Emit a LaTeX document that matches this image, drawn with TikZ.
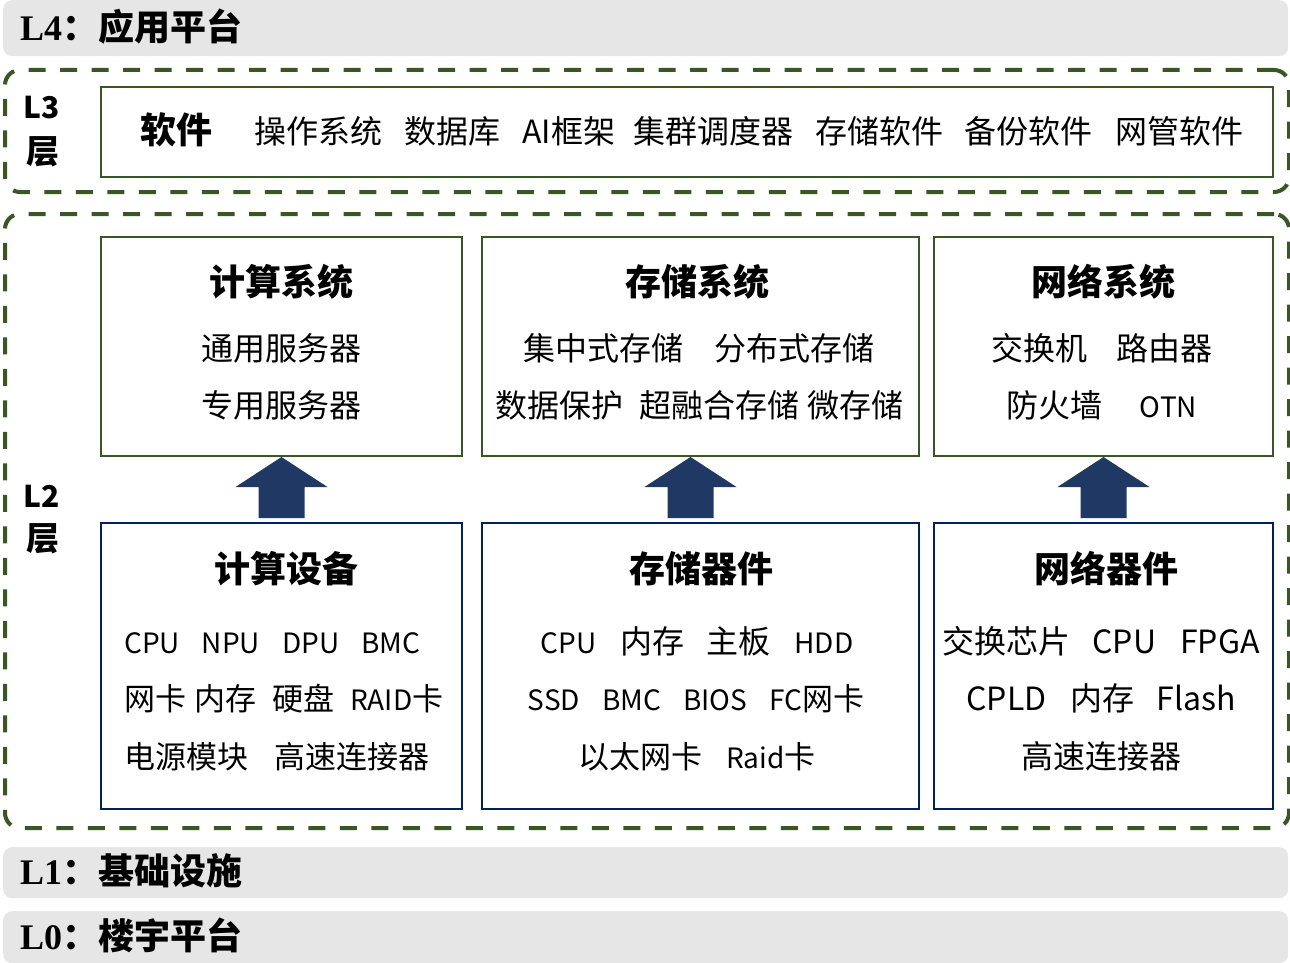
\documentclass[tikz,border=0pt]{standalone}
\usepackage{fontspec}
\setmainfont{Noto Sans CJK SC}
\newfontfamily\lat{Liberation Serif}
\usepackage{tikz}
\usetikzlibrary{positioning,calc}
\definecolor{lygreen}{HTML}{385723}
\definecolor{lynavy}{HTML}{002060}
\definecolor{lyarrow}{HTML}{203864}
\definecolor{lygray}{HTML}{E7E6E6}
\newcommand\fsz[1]{\fontsize{#1}{#1}\selectfont}
\tikzset{
  bar/.style={fill=lygray,rounded corners=9pt,anchor=north west,minimum width=1285pt},
  bartxt/.style={inner sep=0pt,font=\bfseries\fsz{36},text height=27pt,text depth=3pt},
  layer/.style={draw=lygreen,line width=4pt,dash pattern=on 17pt off 14.5pt,rounded corners=15pt,anchor=north west,minimum width=1284pt},
  sysbox/.style={draw=lygreen,line width=2pt,anchor=north west},
  devbox/.style={draw=lynavy,line width=2pt,anchor=north west},
  txt/.style={inner sep=0pt,font=\fsz{32},text height=27pt,text depth=3pt},
  ttl/.style={txt,font=\bfseries\fsz{36}},
  sml/.style={txt,font=\fsz{28}},
  uparr/.style={fill=lyarrow},
}
\begin{document}
\begin{tikzpicture}[x=1pt,y=-1pt]
  \useasboundingbox (0,0) rectangle (1290,963);
  % layer bars
  \node[bar,minimum height=56pt] (l4) at (3,0) {};
  \node[bartxt,right=17pt of l4.west] (l4t) {{\lat L4}：应用平台};
  \node[bar,minimum height=51pt] (l1) at (3,847) {};
  \node[bartxt,right=17pt of l1.west] (l1t) {{\lat L1}：基础设施};
  \node[bar,minimum height=52pt] (l0) at (3,911) {};
  \node[bartxt,right=17pt of l0.west] (l0t) {{\lat L0}：楼宇平台};

  % L3
  \node[layer,minimum height=122pt] (l3) at (3,68) {};
  \node[txt,font=\bfseries\fsz{30}] (l3a) at (42,107) {L3};
  \node[txt,font=\bfseries\fsz{33}] (l3b) at (43,152) {层};
  \node[sysbox,minimum width=1172pt,minimum height=90pt] (soft) at (100,86) {};
  \node[ttl,anchor=west] (softt) at (140,131) {软件};
  \foreach \x/\w [count=\i] in {254/操作系统,404/数据库,522/AI框架,633/集群调度器,815/存储软件,964/备份软件,1115/网管软件}
    \node[txt,anchor=west] (sw\i) at (\x,131) {\w};

  % L2
  \node[layer,minimum height=614pt] (l2) at (3,212) {};
  \node[txt,font=\bfseries\fsz{30}] (l2a) at (42,495) {L2};
  \node[txt,font=\bfseries\fsz{33}] (l2b) at (43,538) {层};

  \node[sysbox,minimum width=361pt,minimum height=219pt] (csys) at (100,236) {};
  \node[sysbox,minimum width=437pt,minimum height=219pt] (ssys) at (481,236) {};
  \node[sysbox,minimum width=339pt,minimum height=219pt] (nsys) at (933,236) {};
  \node[devbox,minimum width=361pt,minimum height=286pt] (cdev) at (100,522) {};
  \node[devbox,minimum width=437pt,minimum height=286pt] (sdev) at (481,522) {};
  \node[devbox,minimum width=339pt,minimum height=286pt] (ndev) at (933,522) {};

  % systems
  \node[ttl] (csyst) at (281,283) {计算系统};
  \node[txt] (csys1) at (281,348) {通用服务器};
  \node[txt] (csys2) at (281,405) {专用服务器};
  \node[ttl] (ssyst) at (697,283) {存储系统};
  \node[txt] (ssys1) at (699,348) {集中式存储\hspace{31pt}分布式存储};
  \node[txt] (ssys2) at (699,405) {数据保护\hspace{16pt}超融合存储\hspace{8pt}微存储};
  \node[ttl] (nsyst) at (1103,283) {网络系统};
  \node[txt] (nsys1) at (1102,348) {交换机\hspace{30pt}路由器};
  \node[txt] (nsys2) at (1102,405) {防火墙\hspace{37pt}{\fsz{28}OTN}};

  % devices
  \node[ttl] (cdevt) at (286,570) {计算设备};
  \node[sml,anchor=west] (cdev1) at (124,641) {CPU\hspace{22pt}NPU\hspace{22pt}DPU\hspace{22pt}BMC};
  \node[txt,font=\fsz{31},anchor=west] (cdev2) at (124,698) {网卡\hspace{8pt}内存\hspace{16pt}硬盘\hspace{16pt}{\fsz{28}RAID}卡};
  \node[txt,font=\fsz{31},anchor=west] (cdev3) at (124,756) {电源模块\hspace{26pt}高速连接器};
  \node[ttl] (sdevt) at (701,570) {存储器件};
  \node[txt] (sdev1) at (697,641) {{\fsz{28}CPU}\hspace{24pt}内存\hspace{22pt}主板\hspace{24pt}{\fsz{28}HDD}};
  \node[sml] (sdev2) at (696,698) {SSD\hspace{22pt}BMC\hspace{22pt}BIOS\hspace{22pt}FC{\fsz{31}网卡}};
  \node[txt,font=\fsz{31}] (sdev3) at (697,756) {以太网卡\hspace{24pt}{\fsz{28}Raid}卡};
  \node[ttl] (ndevt) at (1106,570) {网络器件};
  \node[txt] (ndev1) at (1101,641) {交换芯片\hspace{22pt}CPU\hspace{24pt}FPGA};
  \node[txt] (ndev2) at (1101,698) {CPLD\hspace{24pt}内存\hspace{22pt}Flash};
  \node[txt] (ndev3) at (1101,756) {高速连接器};

  % block arrows
  \foreach \dv/\sy/\dx in {cdev/csys/0,sdev/ssys/-10,ndev/nsys/0}{
    \fill[uparr] ($(\sy.south)+(\dx,0)$) -- ($(\sy.south)+(\dx+46,30)$)
      -- ($(\sy.south)+(\dx+23,30)$) -- ($(\dv.north)+(\dx+23,-4)$)
      -- ($(\dv.north)+(\dx-23,-4)$) -- ($(\sy.south)+(\dx-23,30)$)
      -- ($(\sy.south)+(\dx-46,30)$) -- cycle;
  }
\end{tikzpicture}
\end{document}
